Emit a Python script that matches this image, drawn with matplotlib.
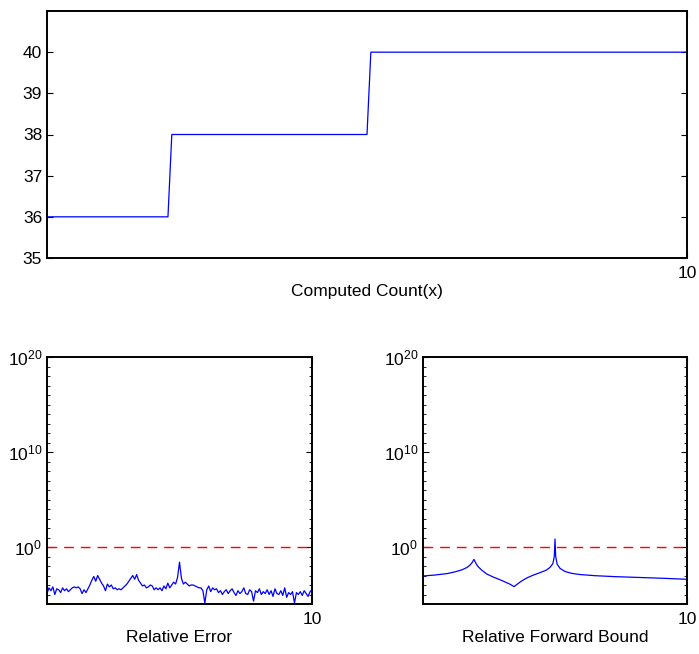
import numpy as np
import matplotlib
matplotlib.use("Agg")
import matplotlib.pyplot as plt
from matplotlib.ticker import FixedLocator, LogFormatterSciNotation, NullFormatter

plt.rcParams['font.family'] = ['Liberation Sans', 'DejaVu Sans']
plt.rcParams['mathtext.fontset'] = 'custom'
plt.rcParams['mathtext.rm'] = 'Liberation Sans'
plt.rcParams['mathtext.it'] = 'Liberation Sans'
plt.rcParams['mathtext.bf'] = 'Liberation Sans'

# Computed count of roots along x
count_x = [9.0, 9.189, 9.195, 9.500, 9.506, 10.0]
count_y = [36, 36, 38, 38, 40, 40]

# Relative error (log10) sampled evenly over [9, 10]
err_log10 = [
    -4.9, -4.3, -4.6, -4.2, -5.0, -4.4, -4.5, -4.8, -4.3, -4.6, -4.4, -4.7, -4.5,
    -4.3, -4.2, -4.3, -4.2, -4.4, -4.9, -4.5, -4.8, -4.4,
    -4.0, -3.5, -3.1, -3.6, -3.0, -3.4,
    -3.8, -4.1, -4.6, -3.9, -4.2, -4.0, -4.4, -4.3, -4.5, -4.4, -4.5, -4.3, -4.1,
    -3.9, -3.6, -3.3, -3.0, -3.4, -2.9, -3.5,
    -3.8, -4.1, -4.0, -4.3, -4.2, -4.0, -4.1, -4.5, -4.3,
    -4.5, -4.3, -4.6, -4.1, -4.4, -3.8, -4.3, -4.0, -3.7, -3.9,
    -3.2, -1.6, -3.3,
    -3.9, -3.7, -3.9, -4.1, -4.0, -4.0, -4.1, -4.2, -4.3,
    -4.3, -4.6, -5.9,
    -4.5, -4.1, -4.7, -4.3, -4.5, -4.4, -4.8, -4.6, -5.0, -4.7, -4.5, -4.9, -4.6,
    -4.4, -4.8, -5.1, -4.6, -4.9, -4.7, -4.3, -4.9, -5.0, -4.5, -4.7, -5.7, -4.6,
    -4.8, -4.4, -5.0, -4.7, -4.9, -4.5, -5.0, -4.6, -5.2, -4.4, -4.9, -5.0, -4.6,
    -5.1, -4.3, -5.3, -4.8, -5.0, -4.7, -5.9, -4.8, -5.0, -4.7, -5.1, -4.6, -4.9,
    -5.2, -4.7, -4.5,
]
err_x = np.linspace(9.0, 10.0, len(err_log10))

# Relative forward bound (log10)
fb_x = [9.000, 9.045, 9.091, 9.121, 9.148, 9.167, 9.178, 9.186, 9.193, 9.201,
        9.208, 9.223, 9.242, 9.265, 9.292, 9.314, 9.330, 9.345, 9.360, 9.375,
        9.394, 9.417, 9.443, 9.466, 9.481, 9.492, 9.4973, 9.500, 9.5027, 9.508,
        9.519, 9.538, 9.564, 9.595, 9.652, 9.727, 9.822, 9.917, 10.000]
fb_log10 = [-3.05, -2.95, -2.80, -2.62, -2.40, -2.15, -1.90, -1.65, -1.30, -1.75,
            -2.05, -2.45, -2.85, -3.15, -3.45, -3.72, -3.92, -4.17, -3.85, -3.55,
            -3.25, -2.97, -2.70, -2.45, -2.15, -1.75, -1.00, 0.84, -1.00, -1.80,
            -2.25, -2.58, -2.78, -2.90, -3.02, -3.12, -3.21, -3.30, -3.40]

x_ticks = [10]
count_ticks = [35, 36, 37, 38, 39, 40]
log_ticks = [1e0, 1e10, 1e20]

W, H = 699, 654
fig = plt.figure(figsize=(W / 100, H / 100), dpi=100)


def box(l, t, r, b):
    return [l / W, 1 - b / H, (r - l) / W, (b - t) / H]


FS = 12.5
blue = '#0000ff'


def style(ax):
    for s in ax.spines.values():
        s.set_linewidth(1.4)
        s.set_color('black')
    ax.tick_params(direction='in', top=True, right=True, labelsize=FS,
                   length=4, width=0.8, colors='black')
    ax.tick_params(which='minor', direction='in', top=False, right=True,
                   length=2, width=0.6)


# Top panel
ax0 = fig.add_axes(box(47, 11, 687, 258))
ax0.plot(count_x, count_y, color=blue, lw=0.9)
ax0.set_xlim(9.0, 10.0)
ax0.set_ylim(35, 41)
ax0.set_xticks(x_ticks)
ax0.set_xticklabels([str(v) for v in x_ticks])
ax0.set_yticks(count_ticks)
style(ax0)
ax0.tick_params(axis='x', pad=6)
ax0.set_xlabel('Computed Count(x)', fontsize=FS, labelpad=2)


def log_panel(ax, x, ylog, label):
    ax.semilogy(x, 10.0 ** np.asarray(ylog), color=blue, lw=0.9)
    ax.axhline(1.0, color='red', lw=1.0, dashes=(7, 5))
    ax.set_xlim(9.0, 10.0)
    ax.set_ylim(1e-6, 1e20)
    ax.set_xticks(x_ticks)
    ax.set_xticklabels([str(v) for v in x_ticks])
    ax.yaxis.set_major_locator(FixedLocator(log_ticks))
    ax.yaxis.set_major_formatter(LogFormatterSciNotation())
    ax.yaxis.set_minor_locator(FixedLocator([10.0 ** k for k in range(-6, 21)]))
    ax.yaxis.set_minor_formatter(NullFormatter())
    style(ax)
    ax.tick_params(axis='x', pad=6)
    ax.set_xlabel(label, fontsize=FS, labelpad=2)


ax1 = fig.add_axes(box(47, 357, 312, 604))
log_panel(ax1, err_x, err_log10, 'Relative Error')

ax2 = fig.add_axes(box(423, 357, 687, 604))
log_panel(ax2, fb_x, fb_log10, 'Relative Forward Bound')

fig.savefig('out.png', dpi=100)
